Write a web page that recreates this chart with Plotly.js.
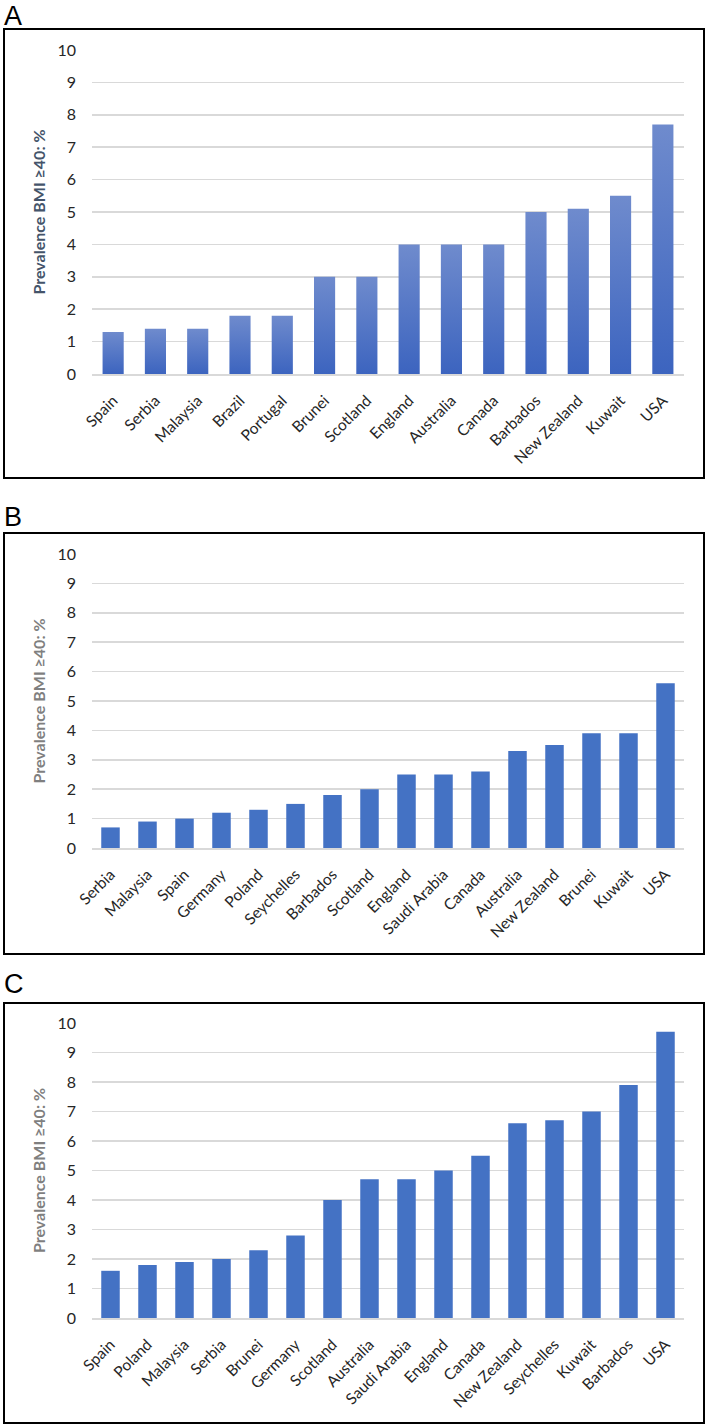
<!DOCTYPE html>
<html>
<head>
<meta charset="utf-8">
<script src="https://cdn.plot.ly/plotly-3.0.1.min.js"></script>
<style>
html,body{margin:0;padding:0;background:#fff;}
#chart{width:709px;height:1427px;}
</style>
</head>
<body>
<div id="chart"></div>
<script>
// Panel A
const countriesA = ["Spain","Serbia","Malaysia","Brazil","Portugal","Brunei","Scotland","England","Australia","Canada","Barbados","New Zealand","Kuwait","USA"];
const valuesA = [1.3,1.4,1.4,1.8,1.8,3.0,3.0,4.0,4.0,4.0,5.0,5.1,5.5,7.7];
// Panel B
const countriesB = ["Serbia","Malaysia","Spain","Germany","Poland","Seychelles","Barbados","Scotland","England","Saudi Arabia","Canada","Australia","New Zealand","Brunei","Kuwait","USA"];
const valuesB = [0.7,0.9,1.0,1.2,1.3,1.5,1.8,2.0,2.5,2.5,2.6,3.3,3.5,3.9,3.9,5.6];
// Panel C
const countriesC = ["Spain","Poland","Malaysia","Serbia","Brunei","Germany","Scotland","Australia","Saudi Arabia","England","Canada","New Zealand","Seychelles","Kuwait","Barbados","USA"];
const valuesC = [1.6,1.8,1.9,2.0,2.3,2.8,4.0,4.7,4.7,5.0,5.5,6.6,6.7,7.0,7.9,9.7];

const yTickVals = [0,1,2,3,4,5,6,7,8,9,10];
const panelLabels = ["A","B","C"];
const yTitle = "Prevalence BMI \u226540: %";

const W = 709, H = 1427;
const px = v => v / W;
const py = v => 1 - v / H;

const traces = [
  {type:"bar", x:countriesA, y:valuesA, xaxis:"x", yaxis:"y", marker:{color:"#5273c6"}, hoverinfo:"x+y"},
  {type:"bar", x:countriesB, y:valuesB, xaxis:"x2", yaxis:"y2", marker:{color:"#4472C4"}, hoverinfo:"x+y"},
  {type:"bar", x:countriesC, y:valuesC, xaxis:"x3", yaxis:"y3", marker:{color:"#4472C4"}, hoverinfo:"x+y"}
];

const fam = "Lato, 'Open Sans', sans-serif";
const tickFont = {family:fam, size:16, color:"#262626"};
const xTickFont = {family:fam, size:15.5, color:"#262626"};

function xax(domainPx){
  return {domain:[px(domainPx[0]), px(domainPx[1])], tickangle:-45, tickfont:xTickFont,
    showgrid:false, showline:true, linecolor:"#d9d9d9", linewidth:1.5, ticks:"", ticklabelstandoff:10,
    fixedrange:true, automargin:false};
}
function yax(top, bottom, titleColor){
  return {domain:[py(bottom), py(top)], range:[0,10], tickvals:yTickVals, tickfont:tickFont,
    showgrid:true, gridcolor:"#d9d9d9", gridwidth:1.5, zeroline:false, showline:false, ticks:"",
    ticklabelstandoff:15, automargin:false, fixedrange:true,
    title:{text:yTitle, font:{family:fam, size:16, color:titleColor, weight:"bold"}, standoff:7}};
}

const layout = {
  width:W, height:H, margin:{l:0,r:0,t:0,b:0}, paper_bgcolor:"#fff", plot_bgcolor:"#fff",
  showlegend:false, bargap:0.5,
  xaxis: Object.assign(xax([92,684]), {anchor:"y"}),
  yaxis: Object.assign(yax(50,374,"#44546A"), {anchor:"x"}),
  xaxis2: Object.assign(xax([92,684]), {anchor:"y2"}),
  yaxis2: Object.assign(yax(554,848,"#7F7F7F"), {anchor:"x2"}),
  xaxis3: Object.assign(xax([92,684]), {anchor:"y3"}),
  yaxis3: Object.assign(yax(1023,1318,"#7F7F7F"), {anchor:"x3"}),
  shapes: [
    {type:"rect", xref:"paper", yref:"paper", x0:px(4), x1:px(704), y0:py(478), y1:py(29), line:{color:"#000", width:2}},
    {type:"rect", xref:"paper", yref:"paper", x0:px(4), x1:px(704), y0:py(954), y1:py(533), line:{color:"#000", width:2}},
    {type:"rect", xref:"paper", yref:"paper", x0:px(4), x1:px(704), y0:py(1423), y1:py(1003), line:{color:"#000", width:2}}
  ],
  annotations: [
    {text:panelLabels[0], xref:"paper", yref:"paper", x:px(2), y:py(-1), xanchor:"left", yanchor:"top", showarrow:false, font:{family:"Liberation Sans, Arial, sans-serif", size:27, color:"#000"}},
    {text:panelLabels[1], xref:"paper", yref:"paper", x:px(2), y:py(500), xanchor:"left", yanchor:"top", showarrow:false, font:{family:"Liberation Sans, Arial, sans-serif", size:27, color:"#000"}},
    {text:panelLabels[2], xref:"paper", yref:"paper", x:px(2), y:py(967), xanchor:"left", yanchor:"top", showarrow:false, font:{family:"Liberation Sans, Arial, sans-serif", size:27, color:"#000"}}
  ]
};

Plotly.newPlot("chart", traces, layout, {displayModeBar:false, staticPlot:true}).then(gd => {
  // vertical gradient for panel A bars (lighter top, darker bottom)
  const svg = gd.querySelector("svg.main-svg");
  const ns = "http://www.w3.org/2000/svg";
  let defs = svg.querySelector("defs");
  if (!defs) { defs = document.createElementNS(ns, "defs"); svg.insertBefore(defs, svg.firstChild); }
  const lg = document.createElementNS(ns, "linearGradient");
  lg.setAttribute("id", "gradA"); lg.setAttribute("x1","0"); lg.setAttribute("y1","0"); lg.setAttribute("x2","0"); lg.setAttribute("y2","1");
  [["0%","#6f8bcd"],["100%","#3c64bf"]].forEach(([o,c]) => {
    const s = document.createElementNS(ns, "stop"); s.setAttribute("offset", o); s.setAttribute("stop-color", c); lg.appendChild(s);
  });
  defs.appendChild(lg);
  const sub = gd.querySelector(".subplot.xy");
  if (sub) sub.querySelectorAll(".bars path").forEach(p => { p.style.fill = "url(#gradA)"; });
});
</script>
</body>
</html>
